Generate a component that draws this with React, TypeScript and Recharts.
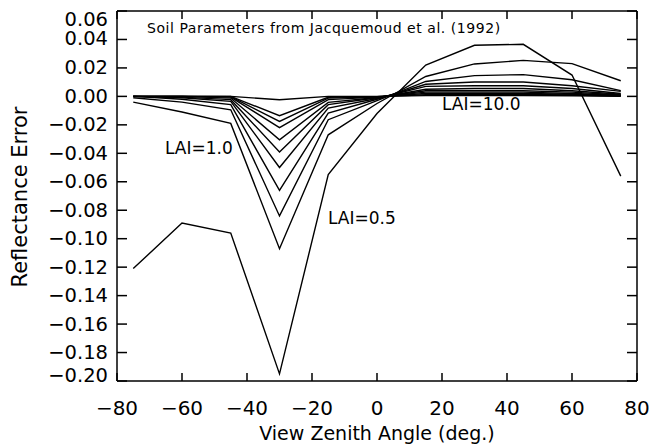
import { Line, LineChart, XAxis, YAxis } from "recharts";

// view zenith angles (deg.)
const angles = [-75, -60, -45, -30, -15, 0, 15, 30, 45, 60, 75];

// reflectance error per LAI curve
const lai05 = [-0.121, -0.089, -0.096, -0.195, -0.055, -0.012, 0.022, 0.0359, 0.0366, 0.015, -0.056];
const lai1 = [-0.004, -0.011, -0.019, -0.107, -0.027, -0.005, 0.014, 0.0228, 0.0253, 0.023, 0.011];
const lai2 = [-0.001, -0.004, -0.0094, -0.084, -0.0164, -0.003, 0.0105, 0.0146, 0.0153, 0.0117, 0.004];
const lai3 = [0, -0.002, -0.0058, -0.066, -0.0117, -0.002, 0.0085, 0.0101, 0.0101, 0.0075, 0.0035];
const lai4 = [0, -0.001, -0.0035, -0.05, -0.0082, -0.0015, 0.007, 0.0075, 0.0075, 0.0055, 0.002];
const lai5 = [0, -0.0005, -0.0023, -0.039, -0.0058, -0.001, 0.005, 0.0055, 0.0055, 0.004, 0.0015];
const lai6 = [0, 0, -0.0012, -0.0305, -0.0042, -0.0008, 0.004, 0.004, 0.004, 0.003, 0.001];
const lai7 = [0, 0, -0.0005, -0.022, -0.0023, -0.0005, 0.003, 0.003, 0.003, 0.002, 0.0008];
const lai8 = [0, 0, -0.0002, -0.0176, -0.0012, -0.0003, 0.002, 0.002, 0.002, 0.0015, 0.0005];
const lai9 = [0, 0, 0, -0.0136, -0.0006, -0.0002, 0.0012, 0.0013, 0.0013, 0.001, 0.0003];
const lai10 = [0, 0, 0, -0.0024, 0, 0, 0.0005, 0.0006, 0.0006, 0.0004, 0.0001];

const xTicks = [-80, -60, -40, -20, 0, 20, 40, 60, 80];
const yTicks = [0.06, 0.04, 0.02, 0, -0.02, -0.04, -0.06, -0.08, -0.1, -0.12, -0.14, -0.16, -0.18, -0.2];

const series = [lai05, lai1, lai2, lai3, lai4, lai5, lai6, lai7, lai8, lai9, lai10];

const data = angles.map((angle, i) => {
  const row: Record<string, number> = { angle };
  series.forEach((s, k) => {
    row[`s${k}`] = s[i];
  });
  return row;
});

const FONT = "DejaVu Sans";

const fmtNum = (v: number, digits: number) => {
  const s = Math.abs(v).toFixed(digits);
  return v < 0 ? `\u2212${s}` : s;
};

// IDL nudges the end labels inside the axis range
const yLabelShift = (v: number) => {
  if (v === 0.06) return 8;
  if (v === 0.04) return -1;
  if (v === -0.2) return -6;
  return 0;
};

const YTick = ({ x, y, payload }: any) => (
  <text
    x={x}
    y={y + yLabelShift(payload.value)}
    textAnchor="end"
    dominantBaseline="central"
    fontFamily={FONT}
    fontSize={19.5}
    fill="#000"
  >
    {fmtNum(payload.value, 2)}
  </text>
);

const XTick = ({ x, y, payload }: any) => (
  <text
    x={x}
    y={y}
    textAnchor="middle"
    dominantBaseline="central"
    fontFamily={FONT}
    fontSize={20}
    fill="#000"
  >
    {fmtNum(payload.value, 0)}
  </text>
);

const NoTick = () => <g />;

export default function App() {
  return (
    <div
      style={{
        position: "absolute",
        left: 0,
        top: 0,
        width: 649,
        height: 445,
        background: "#fff",
      }}
    >
      <LineChart
        width={649}
        height={445}
        data={data}
        margin={{ top: 9, right: 10, bottom: 34, left: 57 }}
      >
        <XAxis
          dataKey="angle"
          type="number"
          domain={[-80, 80]}
          ticks={xTicks}
          allowDataOverflow
          height={30}
          stroke="#000"
          strokeWidth={1.5}
          tickSize={-8}
          tickMargin={35}
          tick={<XTick />}
        />
        <XAxis
          xAxisId="top"
          orientation="top"
          dataKey="angle"
          type="number"
          domain={[-80, 80]}
          ticks={xTicks}
          allowDataOverflow
          height={2}
          stroke="#000"
          strokeWidth={1.5}
          tickSize={-8}
          tick={<NoTick />}
        />
        <YAxis
          type="number"
          domain={[-0.2, 0.06]}
          ticks={yTicks}
          allowDataOverflow
          width={60}
          stroke="#000"
          strokeWidth={1.5}
          tickSize={-10}
          tickMargin={19}
          tick={<YTick />}
        />
        <YAxis
          yAxisId="right"
          orientation="right"
          type="number"
          domain={[-0.2, 0.06]}
          ticks={yTicks}
          allowDataOverflow
          width={2}
          stroke="#000"
          strokeWidth={1.5}
          tickSize={-10}
          tick={<NoTick />}
        />
        {series.map((_, k) => (
          <Line
            key={k}
            dataKey={`s${k}`}
            type="linear"
            stroke="#000"
            strokeWidth={1.4}
            dot={false}
            isAnimationActive={false}
          />
        ))}
      </LineChart>

      {/* titles and curve annotations */}
      <svg
        width={649}
        height={445}
        style={{ position: "absolute", left: 0, top: 0, pointerEvents: "none" }}
        fontFamily={FONT}
        fill="#000"
      >
        <text x={147} y={28} fontSize={14} letterSpacing={0.55} dominantBaseline="central">
          Soil Parameters from Jacquemoud et al. (1992)
        </text>
        <text x={165} y={148} fontSize={17} dominantBaseline="central">
          LAI=1.0
        </text>
        <text x={328} y={218} fontSize={17} dominantBaseline="central">
          LAI=0.5
        </text>
        <text x={442} y={104} fontSize={17} dominantBaseline="central">
          LAI=10.0
        </text>
        <text x={377} y={433} fontSize={19} textAnchor="middle" dominantBaseline="central">
          View Zenith Angle (deg.)
        </text>
        <text
          x={20}
          y={197}
          fontSize={21}
          textAnchor="middle"
          dominantBaseline="central"
          transform="rotate(-90 20 197)"
        >
          Reflectance Error
        </text>
      </svg>
    </div>
  );
}
